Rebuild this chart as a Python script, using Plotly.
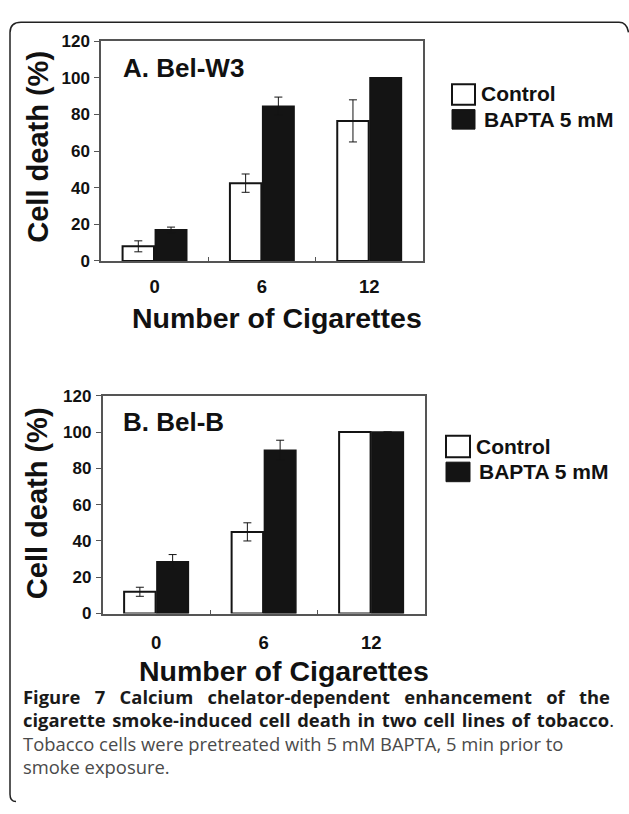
import plotly.graph_objects as go

# ---------------- data ----------------
categories = ["0", "6", "12"]
y_ticks = [0, 20, 40, 60, 80, 100, 120]

a_control = [8, 42.5, 76.5]
a_control_err = [3, 5, 11.5]
a_bapta = [17, 84.5, 100]
a_bapta_err = [1.5, 5, 0]

b_control = [12, 45, 100]
b_control_err = [2.5, 5, 0]
b_bapta = [28.5, 90, 100]
b_bapta_err = [4, 5.5, 0]

series_names = ["Control", "BAPTA 5 mM"]
panel_titles = ["A. Bel-W3", "B. Bel-B"]
x_title = "Number of Cigarettes"
y_title = "Cell death (%)"
caption_bold_1 = "Figure 7 Calcium chelator-dependent enhancement of the"
caption_bold_2 = "cigarette smoke-induced cell death in two cell lines of tobacco"
caption_regular = [
    "Tobacco cells were pretreated with 5 mM BAPTA, 5 min prior to",
    "smoke exposure.",
]

# ---------------- layout helpers ----------------
W, H = 629, 814
def px(x):
    return x / W
def py(y):
    return 1 - y / H

CHART_FONT = "Liberation Sans, Arial, sans-serif"
CAP_FONT = "Open Sans, Noto Sans, sans-serif"
BLACK = "#141414"
FRAME = "#555555"

fig = go.Figure()

panels = [
    dict(ctrl=a_control, ctrl_e=a_control_err, bap=a_bapta, bap_e=a_bapta_err, xa="x", ya="y"),
    dict(ctrl=b_control, ctrl_e=b_control_err, bap=b_bapta, bap_e=b_bapta_err, xa="x2", ya="y2"),
]
for p in panels:
    fig.add_trace(go.Bar(
        x=categories, y=p["ctrl"], name=series_names[0], xaxis=p["xa"], yaxis=p["ya"],
        marker=dict(color="white", line=dict(color=BLACK, width=2)),
        error_y=dict(type="data", array=p["ctrl_e"], color=BLACK, thickness=1, width=4),
        showlegend=False,
    ))
    fig.add_trace(go.Bar(
        x=categories, y=p["bap"], name=series_names[1], xaxis=p["xa"], yaxis=p["ya"],
        marker=dict(color=BLACK, line=dict(color=BLACK, width=1.5)),
        error_y=dict(type="data", array=p["bap_e"], color=BLACK, thickness=1, width=4),
        showlegend=False,
    ))

def xaxis_cfg(domain, anchor, standoff):
    return dict(
        domain=domain, anchor=anchor, type="category", range=[-0.5, 2.5],
        showline=True, linecolor=FRAME, linewidth=1.5, mirror=True,
        ticks="inside", ticklen=4, tickcolor=FRAME, tickwidth=1, tickson="boundaries",
        tickfont=dict(family=CHART_FONT, size=18.5, color="#111111", weight="bold"),
        ticklabelstandoff=standoff, showgrid=False, zeroline=False, fixedrange=True,
    )

def yaxis_cfg(domain, anchor):
    return dict(
        domain=domain, anchor=anchor, range=[0, 120], tickvals=y_ticks,
        showline=True, linecolor=FRAME, linewidth=1.5, mirror=True,
        ticks="outside", ticklen=5, tickcolor=FRAME, tickwidth=1,
        tickfont=dict(family=CHART_FONT, size=17, color="#111111", weight="bold"),
        ticklabelstandoff=1, showgrid=False, zeroline=False, fixedrange=True,
    )

fig.update_layout(
    width=W, height=H, margin=dict(l=0, r=0, t=0, b=0),
    paper_bgcolor="white", plot_bgcolor="white",
    barmode="group", bargap=0.39, bargroupgap=0.04,
    showlegend=False,
    xaxis=xaxis_cfg([px(101), px(423)], "y", 8),
    yaxis=yaxis_cfg([py(258), py(33)], "x"),
    xaxis2=xaxis_cfg([px(102.5), px(425)], "y2", 11),
    yaxis2=yaxis_cfg([py(619), py(396)], "x2"),
)

annotations = []
shapes = []

def text_ann(x, y, text, size, xanchor="left", angle=0, family=CHART_FONT, color="#111111", weight="bold"):
    annotations.append(dict(
        x=px(x), y=py(y), xref="paper", yref="paper", text=text, showarrow=False,
        xanchor=xanchor, yanchor="middle", textangle=angle,
        font=dict(family=family, size=size, color=color, weight=weight),
    ))

# panel titles
text_ann(121, 60, panel_titles[0], 26)
text_ann(121, 423, panel_titles[1], 26)
# axis titles
text_ann(277, 316, x_title, 28.5, xanchor="center")
text_ann(284, 678, x_title, 28.5, xanchor="center")
text_ann(38, 141, y_title, 29, xanchor="center", angle=-90)
text_ann(37, 506, y_title, 29, xanchor="center", angle=-90)

# legends (manual)
legend_pos = [
    dict(bx=(452, 475), by1=(77, 98), by2=(103, 123), tx1=479, ty1=87, tx2=482, ty2=113),
    dict(bx=(446, 470), by1=(437, 459), by2=(464, 484), tx1=474, ty1=448, tx2=477, ty2=474),
]
for L in legend_pos:
    shapes.append(dict(type="rect", xref="paper", yref="paper",
                       x0=px(L["bx"][0]), x1=px(L["bx"][1]), y0=py(L["by1"][1]), y1=py(L["by1"][0]),
                       line=dict(color=BLACK, width=2), fillcolor="white"))
    shapes.append(dict(type="rect", xref="paper", yref="paper",
                       x0=px(L["bx"][0]), x1=px(L["bx"][1]), y0=py(L["by2"][1]), y1=py(L["by2"][0]),
                       line=dict(color=BLACK, width=1), fillcolor=BLACK))
    text_ann(L["tx1"], L["ty1"], series_names[0], 21)
    text_ann(L["tx2"], L["ty2"], series_names[1], 21)

# caption (first two lines justified by widening word gaps)
CAP_SIZE = 18.4
line1 = "<b>" + caption_bold_1.replace(" ", " \u00A0\u00A0") + "</b>"
line2 = "<b>" + caption_bold_2.replace(" ", " \u200A") + "</b>."
text_ann(21, 704, line1, CAP_SIZE, family=CAP_FONT, color="#1a1a1a", weight="normal")
text_ann(21, 727, line2, CAP_SIZE, family=CAP_FONT, color="#1a1a1a", weight="normal")
text_ann(21, 752, caption_regular[0], CAP_SIZE, family=CAP_FONT, color="#4a4a4a", weight="normal")
text_ann(21, 776, caption_regular[1], CAP_SIZE, family=CAP_FONT, color="#4a4a4a", weight="normal")

# outer rounded border
path = "M {x1} {b} Q {x0} {b} {x0} {b2} L {x0} {t2} Q {x0} {t} {x2} {t} L {x3} {t} Q {x4} {t} {x5} {t3}".format(
    x0=px(10), x1=px(16), x2=px(21), x3=px(619), x4=px(627), x5=px(628.5),
    b=py(811.5), b2=py(804), t2=py(24), t=py(13.5), t3=py(24))
shapes.append(dict(type="path", xref="paper", yref="paper", path=path,
                   line=dict(color="#222222", width=1.5)))

fig.update_layout(annotations=annotations, shapes=shapes)
fig.write_html("out.html",
               config={"displayModeBar": False},
               post_script="document.body.style.margin='0';document.body.style.overflow='hidden';")
